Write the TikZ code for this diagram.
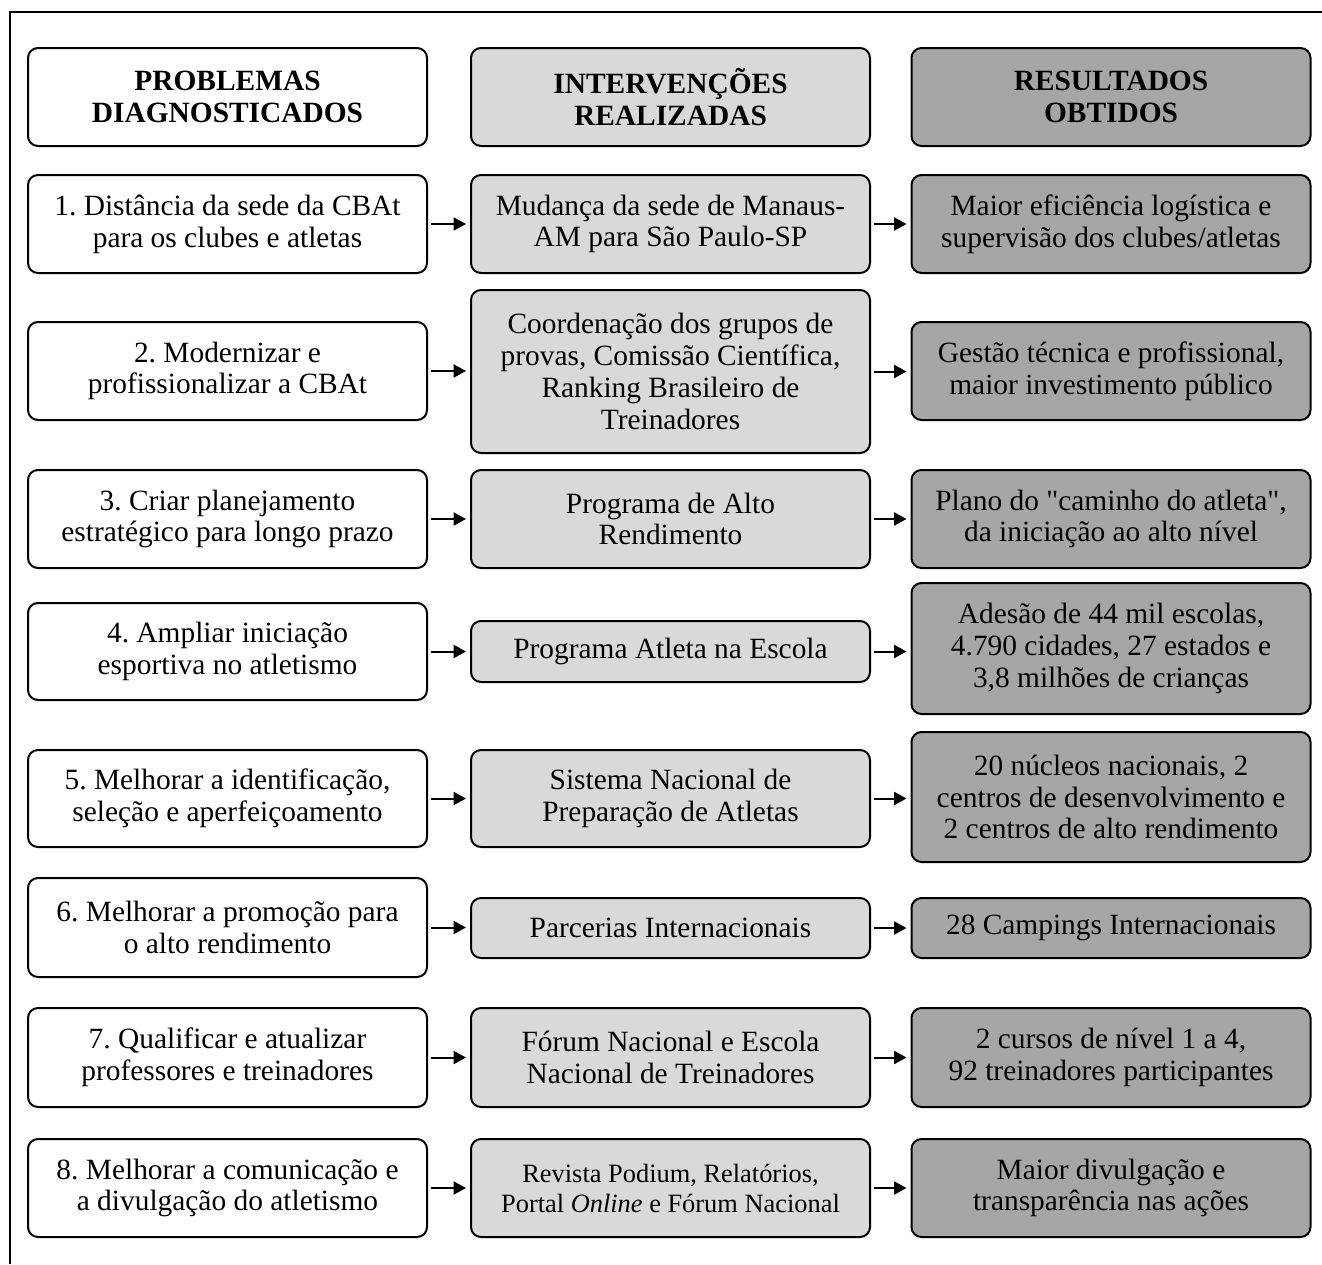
\documentclass[tikz,border=0pt]{standalone}
\usepackage{fontspec}
\setmainfont{Liberation Serif}
\usetikzlibrary{arrows.meta}
\frenchspacing

\definecolor{cinzaclaro}{HTML}{D9D9D9}
\definecolor{cinzaescuro}{HTML}{A6A6A6}

\newcommand{\aspas}{{\XeTeXglyph\XeTeXcharglyph"22\relax}}

\tikzset{
  caixa/.style={draw, line width=1pt, rounded corners=5pt, align=center,
    minimum width=199.5pt, inner sep=0pt,
    font=\fontsize{14.7}{15.9}\selectfont},
  prob/.style={caixa, fill=white},
  interv/.style={caixa, fill=cinzaclaro},
  result/.style={caixa, fill=cinzaescuro},
  seta/.style={line width=1pt, -{Triangle[length=6.2pt,width=6.5pt]},
    shorten <=1.5pt, shorten >=2pt}
}

\begin{document}
\begin{tikzpicture}[x=0.5pt,y=-0.5pt]
  \useasboundingbox (0,0) rectangle (1322,1264);
  \draw[line width=1pt] (10,1264) -- (10,12) -- (1322,12);

  % cabecalhos
  \node[prob, minimum height=49pt] (h1) at (227.5,97) {\textbf{PROBLEMAS}\\\textbf{DIAGNOSTICADOS}};
  \node[interv, minimum height=49pt] (h2) at (670.5,97) {\textbf{INTERVENÇÕES}\\\textbf{REALIZADAS}};
  \node[result, minimum height=49pt] (h3) at (1111,97) {\textbf{RESULTADOS}\\\textbf{OBTIDOS}};

  % problemas
  \node[prob, minimum height=49pt] (a1) at (227.5,224) {1. Distância da sede da CBAt\\para os clubes e atletas};
  \node[prob, minimum height=49pt] (a2) at (227.5,371) {2. Modernizar e\\profissionalizar a CBAt};
  \node[prob, minimum height=49pt] (a3) at (227.5,519) {3. Criar planejamento\\estratégico para longo prazo};
  \node[prob, minimum height=48.5pt] (a4) at (227.5,651.5) {4. Ampliar iniciação\\esportiva no atletismo};
  \node[prob, minimum height=48.5pt] (a5) at (227.5,798.5) {5. Melhorar a identificação,\\seleção e aperfeiçoamento};
  \node[prob, minimum height=49.5pt] (a6) at (227.5,927.5) {6. Melhorar a promoção para\\o alto rendimento};
  \node[prob, minimum height=49.5pt] (a7) at (227.5,1057.5) {7. Qualificar e atualizar\\professores e treinadores};
  \node[prob, minimum height=49pt] (a8) at (227.5,1188) {8. Melhorar a comunicação e\\a divulgação do atletismo};

  % intervencoes
  \node[interv, minimum height=49pt] (b1) at (670.5,224) {Mudança da sede de Manaus-\\AM para São Paulo-SP};
  \node[interv, minimum height=81.5pt] (b2) at (670.5,371.5) {Coordenação dos grupos de\\provas, Comissão Científica,\\Ranking Brasileiro de\\Treinadores};
  \node[interv, minimum height=49pt] (b3) at (670.5,519) {Programa de Alto\\Rendimento};
  \node[interv, minimum height=30.5pt] (b4) at (670.5,651.5) {Programa Atleta na Escola};
  \node[interv, minimum height=48.5pt] (b5) at (670.5,798.5) {Sistema Nacional de\\Preparação de Atletas};
  \node[interv, minimum height=30pt] (b6) at (670.5,928) {Parcerias Internacionais};
  \node[interv, minimum height=49.5pt] (b7) at (670.5,1057.5) {Fórum Nacional e Escola\\Nacional de Treinadores};
  \node[interv, minimum height=49pt, font=\fontsize{13.2}{15}\selectfont] (b8) at (670.5,1188) {Revista Podium, Relatórios,\\Portal \textit{Online} e Fórum Nacional};

  % resultados
  \node[result, minimum height=49pt] (c1) at (1111,224) {Maior eficiência logística e\\supervisão dos clubes/atletas};
  \node[result, minimum height=49pt] (c2) at (1111,371) {Gestão técnica e profissional,\\maior investimento público};
  \node[result, minimum height=49pt] (c3) at (1111,519) {Plano do \aspas caminho do atleta\aspas,\\da iniciação ao alto nível};
  \node[result, minimum height=65.5pt] (c4) at (1111,648.5) {Adesão de 44 mil escolas,\\4.790 cidades, 27 estados e\\3,8 milhões de crianças};
  \node[result, minimum height=65pt] (c5) at (1111,797) {20 núcleos nacionais, 2\\centros de desenvolvimento e\\2 centros de alto rendimento};
  \node[result, minimum height=30pt] (c6) at (1111,928) {28 Campings Internacionais};
  \node[result, minimum height=49.5pt] (c7) at (1111,1057.5) {2 cursos de nível 1 a 4,\\92 treinadores participantes};
  \node[result, minimum height=49pt] (c8) at (1111,1188) {Maior divulgação e\\transparência nas ações};

  % setas
  \draw[seta] (a1.east) -- (a1.east -| b1.west);
  \draw[seta] (a2.east) -- (a2.east -| b2.west);
  \draw[seta] (a3.east) -- (a3.east -| b3.west);
  \draw[seta] (a4.east) -- (a4.east -| b4.west);
  \draw[seta] (a5.east) -- (a5.east -| b5.west);
  \draw[seta] (a6.east) -- (a6.east -| b6.west);
  \draw[seta] (a7.east) -- (a7.east -| b7.west);
  \draw[seta] (a8.east) -- (a8.east -| b8.west);
  \draw[seta] (b1.east) -- (b1.east -| c1.west);
  \draw[seta] (b2.east) -- (b2.east -| c2.west);
  \draw[seta] (b3.east) -- (b3.east -| c3.west);
  \draw[seta] (b4.east) -- (b4.east -| c4.west);
  \draw[seta] (b5.east) -- (b5.east -| c5.west);
  \draw[seta] (b6.east) -- (b6.east -| c6.west);
  \draw[seta] (b7.east) -- (b7.east -| c7.west);
  \draw[seta] (b8.east) -- (b8.east -| c8.west);
\end{tikzpicture}
\end{document}
